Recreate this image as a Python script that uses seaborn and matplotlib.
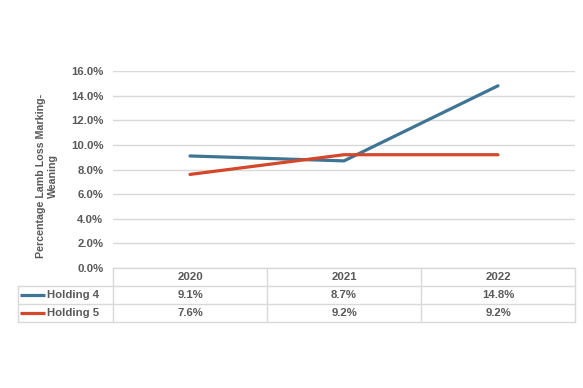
import numpy as np
import pandas as pd
import seaborn as sns
import matplotlib.pyplot as plt
from matplotlib.ticker import PercentFormatter

years = ['2020', '2021', '2022']
holding4 = [9.1, 8.7, 14.8]
holding5 = [7.6, 9.2, 9.2]
series_names = ['Holding 4', 'Holding 5']
colors = ['#3f7594', '#d4472a']

df = pd.DataFrame({
    'year': years * 2,
    'x': list(range(len(years))) * 2,
    'value': holding4 + holding5,
    'series': [series_names[0]] * 3 + [series_names[1]] * 3,
})

sns.set_style('white')
plt.rcParams['font.family'] = ['Liberation Sans', 'DejaVu Sans']
txt = '#595959'
grid = '#d9d9d9'
fs = 8.2

fig = plt.figure(figsize=(5.83, 3.88), dpi=100)
ax = fig.add_axes([113 / 583, 1 - 268 / 388, 462 / 583, 197 / 388])

sns.lineplot(data=df, x='x', y='value', hue='series', palette=colors,
             linewidth=2.3, ax=ax, legend=False)

ax.set_xlim(-0.5, 2.5)
ax.set_ylim(0, 16)
ax.set_yticks(np.arange(0, 17, 2))
ax.yaxis.set_major_formatter(PercentFormatter(decimals=1))
ax.set_xticks([])
ax.set_xlabel('')
ax.set_ylabel('Percentage Lamb Loss Marking-\nWeaning', color=txt,
              fontsize=7.7, fontweight='bold', linespacing=1.3)
ax.yaxis.set_label_coords(-0.119, 0.467)
ax.tick_params(axis='y', colors=txt, labelsize=fs, length=0, pad=7)
for lab in ax.get_yticklabels():
    lab.set_fontweight('bold')
ax.grid(axis='y', color=grid, linewidth=1)
for s in ax.spines.values():
    s.set_visible(False)

# data table below the plot
px = 3 / 462
row_h = 18 / 197
left_x = -0.5 - 95 * px
tr = ax.get_xaxis_transform()
ys = [0, -row_h, -2 * row_h, -3 * row_h]
lk = dict(color=grid, linewidth=1, clip_on=False, transform=tr)
ax.plot([-0.5, 2.5], [ys[0], ys[0]], **lk)
for y in ys[1:]:
    ax.plot([left_x, 2.5], [y, y], **lk)
for xv in [-0.5, 0.5, 1.5, 2.5]:
    ax.plot([xv, xv], [ys[0], ys[3]], **lk)
ax.plot([left_x, left_x], [ys[1], ys[3]], **lk)

for i, yr in enumerate(years):
    ax.text(i, (ys[0] + ys[1]) / 2, yr, transform=tr, ha='center', va='center',
            fontsize=fs, fontweight='bold', color=txt)
rows = [holding4, holding5]
for r, (name, vals, c) in enumerate(zip(series_names, rows, colors)):
    yc = (ys[r + 1] + ys[r + 2]) / 2
    for i, v in enumerate(vals):
        ax.text(i, yc, f'{v:.1f}%', transform=tr, ha='center', va='center',
                fontsize=fs, fontweight='bold', color=txt)
    ax.plot([left_x + 2 * px, left_x + 27 * px], [yc, yc], color=c,
            linewidth=2.3, clip_on=False, transform=tr, solid_capstyle='butt')
    ax.text(left_x + 29 * px, yc, name, transform=tr, ha='left', va='center',
            fontsize=fs, fontweight='bold', color=txt)

fig.savefig('out.png', dpi=100)
